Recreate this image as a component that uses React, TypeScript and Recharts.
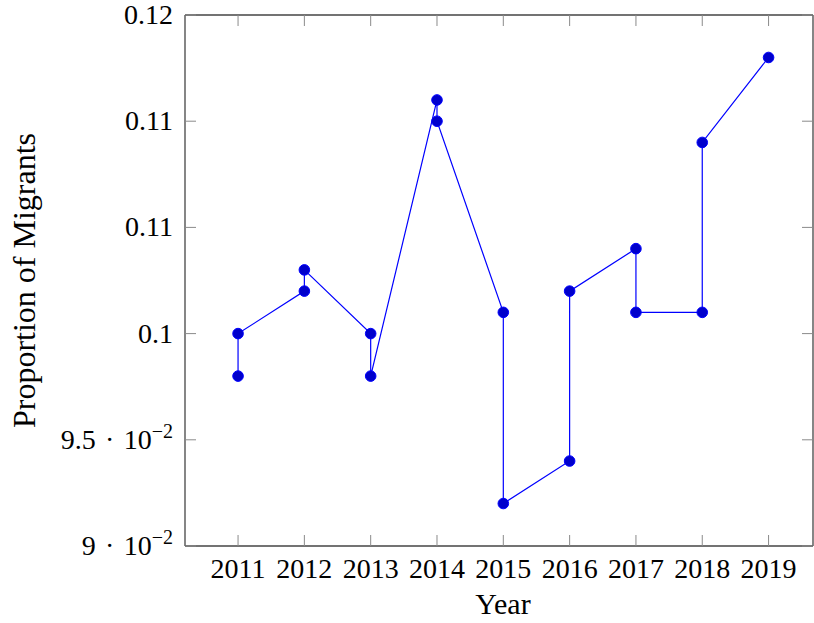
import React from 'react'
import {
  LineChart,
  Line,
  XAxis,
  YAxis,
  Label,
} from 'recharts'

// path order matters: several years carry two readings joined by a vertical step
const years = [2011, 2011, 2012, 2012, 2013, 2013, 2014, 2014, 2015, 2015, 2016, 2016, 2017, 2017, 2018, 2018, 2019]
const proportions = [0.098, 0.1, 0.102, 0.103, 0.1, 0.098, 0.111, 0.11, 0.101, 0.092, 0.094, 0.102, 0.104, 0.101, 0.101, 0.109, 0.113]

const xTicks = [2011, 2012, 2013, 2014, 2015, 2016, 2017, 2018, 2019]
const yTicks = [0.09, 0.095, 0.1, 0.105, 0.11, 0.115]
// pgfplots rounds the labels, so 0.105 reads "0.11" and 0.115 reads "0.12"
const yTickLabels = [
  { base: '9 \u200a·\u200a 10', exp: '−2' },
  { base: '9.5 \u200a·\u200a 10', exp: '−2' },
  { base: '0.1', exp: '' },
  { base: '0.11', exp: '' },
  { base: '0.11', exp: '' },
  { base: '0.12', exp: '' },
]

const data = years.map((year, i) => ({ year, value: proportions[i] }))

const FONT = '"Liberation Serif", "DejaVu Serif", serif'
const TICK_LEN = 11
const AXIS_COLOR = '#444'
const TICK_COLOR = '#8a8a8a'
const X_DOMAIN = [2010.2, 2019.67]
const Y_DOMAIN = [0.09, 0.115]

const YTick = (props: any) => {
  const { x, y, index } = props
  const lbl = yTickLabels[index] || { base: String(props.payload.value), exp: '' }
  return (
    <text x={x} y={y + 9} textAnchor="end" fontFamily={FONT} fontSize={28} fill="#000">
      <tspan>{lbl.base}</tspan>
      {lbl.exp ? (
        <tspan dy={-11} fontSize={20}>
          {lbl.exp}
        </tspan>
      ) : null}
    </text>
  )
}

const XTick = (props: any) => {
  const { x, y, payload } = props
  return (
    <text x={x} y={y + 20} textAnchor="middle" fontFamily={FONT} fontSize={28} fill="#000">
      {payload.value}
    </text>
  )
}

const Empty = () => <g />

export default function App() {
  return (
    <div style={{ position: 'absolute', left: 0, top: 0 }}>
      <LineChart
        width={814}
        height={623}
        data={data}
        margin={{ top: 14, right: 0, bottom: 0, left: 0 }}
      >
        <XAxis
          dataKey="year"
          type="number"
          domain={X_DOMAIN}
          ticks={xTicks}
          allowDataOverflow
          height={77}
          axisLine={{ stroke: AXIS_COLOR, strokeWidth: 1.3 }}
          tickLine={{ stroke: TICK_COLOR, strokeWidth: 1 }}
          tickSize={-TICK_LEN}
          tickMargin={TICK_LEN + 12}
          tick={<XTick />}
        >
          <Label
            content={(p: any) => {
              const vb = p.viewBox
              return (
                <text
                  x={vb.x + vb.width / 2 + 4}
                  y={vb.y + 68}
                  textAnchor="middle"
                  fontFamily={FONT}
                  fontSize={30}
                  fill="#000"
                >
                  Year
                </text>
              )
            }}
          />
        </XAxis>
        <XAxis
          xAxisId="top"
          dataKey="year"
          type="number"
          orientation="top"
          domain={X_DOMAIN}
          ticks={xTicks}
          allowDataOverflow
          height={1}
          axisLine={{ stroke: AXIS_COLOR, strokeWidth: 1.3 }}
          tickLine={{ stroke: TICK_COLOR, strokeWidth: 1 }}
          tickSize={-TICK_LEN}
          tick={<Empty />}
        />
        <YAxis
          type="number"
          domain={Y_DOMAIN}
          ticks={yTicks}
          allowDataOverflow
          width={185}
          axisLine={{ stroke: AXIS_COLOR, strokeWidth: 1.3 }}
          tickLine={{ stroke: TICK_COLOR, strokeWidth: 1 }}
          tickSize={-TICK_LEN}
          tickMargin={TICK_LEN + 12}
          tick={<YTick />}
        >
          <Label
            content={(p: any) => {
              const vb = p.viewBox
              const cx = 24
              const cy = vb.y + vb.height / 2
              return (
                <text
                  x={cx}
                  y={cy}
                  transform={`rotate(-90, ${cx}, ${cy})`}
                  textAnchor="middle"
                  dominantBaseline="central"
                  fontFamily={FONT}
                  fontSize={32}
                  fill="#000"
                >
                  Proportion of Migrants
                </text>
              )
            }}
          />
        </YAxis>
        <YAxis
          yAxisId="right"
          type="number"
          orientation="right"
          domain={Y_DOMAIN}
          ticks={yTicks}
          allowDataOverflow
          width={1}
          axisLine={{ stroke: AXIS_COLOR, strokeWidth: 1.3 }}
          tickLine={{ stroke: TICK_COLOR, strokeWidth: 1 }}
          tickSize={-TICK_LEN}
          tick={<Empty />}
        />
        {/* invisible copy so the mirrored top/right axes get drawn */}
        <Line
          xAxisId="top"
          yAxisId="right"
          type="linear"
          dataKey="value"
          stroke="none"
          dot={false}
          activeDot={false}
          isAnimationActive={false}
        />
        <Line
          type="linear"
          dataKey="value"
          stroke="#0000ff"
          strokeWidth={1.2}
          dot={{ r: 5.3, fill: '#0000cc', stroke: '#0000ff', strokeWidth: 1 }}
          activeDot={false}
          isAnimationActive={false}
        />
      </LineChart>
    </div>
  )
}
